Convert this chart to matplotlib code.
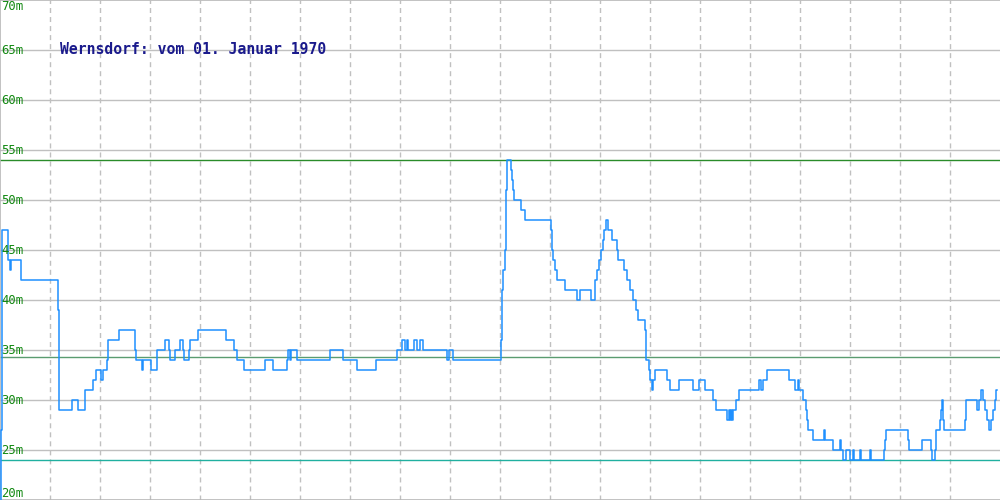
import matplotlib
matplotlib.use("Agg")
import matplotlib.pyplot as plt

# Pegel Wernsdorf: Tag (x-Position) und Wasserstand in m, als Treppe
tag = [0, 1, 2, 8, 10, 11, 21, 58, 59, 72, 78, 85, 93, 96, 101, 103, 107, 108, 119,
       135, 136, 142, 143, 151, 157, 165, 169, 170, 175, 180, 183, 184, 189, 190, 198,
       226, 234, 237, 244, 265, 273, 287, 288, 290, 291, 297, 330, 343, 357, 376, 397,
       402, 405, 407, 408, 414, 417, 420, 423, 447, 449, 453, 501, 502, 503, 505, 506,
       507, 511, 512, 513, 514, 521, 525, 551, 552, 553, 555, 557, 565, 577, 580, 591,
       595, 597, 599, 601, 603, 604, 606, 608, 612, 617, 618, 624, 627, 630, 633, 636,
       638, 645, 646, 649, 650, 652, 653, 655, 667, 670, 679, 693, 699, 705, 713, 716,
       727, 729, 730, 731, 732, 733, 736, 739, 759, 761, 763, 767, 789, 795, 798, 799,
       803, 806, 807, 808, 813, 824, 825, 833, 840, 841, 843, 846, 850, 853, 854, 860,
       861, 870, 871, 884, 885, 886, 908, 909, 922, 931, 932, 935, 936, 940, 941, 942,
       943, 944, 965, 966, 977, 979, 981, 983, 985, 987, 989, 991, 993, 995, 996, 997]
pegel = [19, 27, 47, 44, 43, 44, 42, 39, 29, 30, 29, 31, 32, 33, 32, 33, 34, 36, 37,
         35, 34, 33, 34, 33, 35, 36, 35, 34, 35, 36, 35, 34, 35, 36, 37,
         36, 35, 34, 33, 34, 33, 34, 35, 34, 35, 34, 35, 34, 33, 34, 35,
         36, 35, 36, 35, 36, 35, 36, 35, 34, 35, 34, 36, 41, 43, 45, 51,
         54, 53, 52, 51, 50, 49, 48, 47, 45, 44, 43, 42, 41, 40, 41, 40,
         42, 43, 44, 45, 46, 47, 48, 47, 46, 45, 44, 43, 42, 41, 40, 39,
         38, 37, 34, 33, 32, 31, 32, 33, 32, 31, 32, 31, 32, 31, 30, 29,
         28, 29, 28, 29, 28, 29, 30, 31, 32, 31, 32, 33, 32, 31, 32, 31,
         30, 29, 28, 27, 26, 27, 26, 25, 26, 25, 24, 25, 24, 25, 24, 25,
         24, 25, 24, 25, 26, 27, 26, 25, 26, 25, 24, 25, 27, 28, 29, 30,
         28, 27, 28, 30, 29, 30, 31, 30, 29, 28, 27, 28, 29, 30, 31, 31]

maximum = 54
mittel = 34.3
minimum = 24

y_ticks = [20, 25, 30, 35, 40, 45, 50, 55, 60, 65, 70]
x_grid = list(range(50, 1000, 50))
titel = "Wernsdorf: vom 01. Januar 1970"

plt.rcParams["lines.scale_dashes"] = False

fig = plt.figure(figsize=(10, 5), dpi=100)
ax = fig.add_axes([0, 0, 1, 1])
ax.set_xlim(0, 1000)
ax.set_ylim(20, 70)

for y in y_ticks[1:-1]:
    ax.axhline(y, color="#c0c0c0", lw=1.0, zorder=1)
for x in x_grid:
    ax.axvline(x, color="#c0c0c0", lw=1.0, dashes=(3.6, 2.9), zorder=1)

ax.axhline(maximum, color="#2a8c2a", lw=1.0, zorder=2)
ax.axhline(mittel, color="#5a9c70", lw=1.0, zorder=2)
ax.axhline(minimum, color="#20b0a0", lw=1.0, zorder=2)

ax.step(tag, pegel, where="post", color="#1e90ff", lw=1.1, zorder=3)

for y in y_ticks:
    va = "center"
    if y == 70:
        va = "top"
    elif y == 20:
        va = "bottom"
    ax.text(1, y, f"{y}m", color="#118811", fontsize=8.8,
            family="DejaVu Sans Mono", ha="left", va=va, zorder=4)

ax.text(60, 65.1, titel, color="#1a1a8c", fontsize=10.6, fontweight="bold",
        family="DejaVu Sans Mono", ha="left", va="center", zorder=4)

ax.set_xticks([])
ax.set_yticks([])
for s in ["left", "top", "bottom"]:
    ax.spines[s].set_color("#b8b8b8")
    ax.spines[s].set_linewidth(1.2)
ax.spines["right"].set_visible(False)

fig.savefig("out.png", dpi=100)
